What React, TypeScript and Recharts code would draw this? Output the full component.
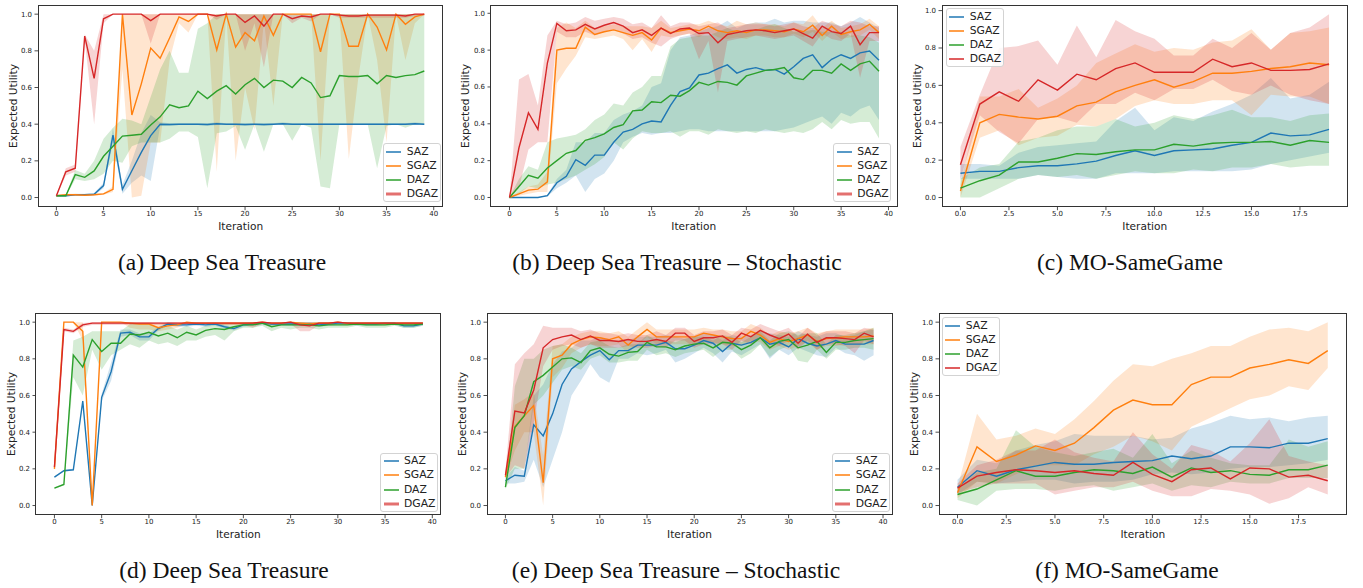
import React from 'react';
import { ComposedChart, Line, Area, XAxis, YAxis } from 'recharts';

// ---------- categories ----------
const SERIES = ['SAZ', 'SGAZ', 'DAZ', 'DGAZ'];
const COLORS = ['#1f77b4', '#ff7f0e', '#2ca02c', '#d62728'];
const ITER40 = [0,1,2,3,4,5,6,7,8,9,10,11,12,13,14,15,16,17,18,19,20,21,22,23,24,25,26,27,28,29,30,31,32,33,34,35,36,37,38,39];
const ITER20 = [0,1,2,3,4,5,6,7,8,9,10,11,12,13,14,15,16,17,18,19];
const XTICKS40 = [0, 5, 10, 15, 20, 25, 30, 35, 40];
const XTICKS20 = [0, 2.5, 5, 7.5, 10, 12.5, 15, 17.5];
const YTICKS = [0, 0.2, 0.4, 0.6, 0.8, 1.0];

// ---------- (a) Deep Sea Treasure ----------
const A_SAZ_mean = [0.01,0.01,0.015,0.015,0.018,0.065,0.34,0.045,0.146,0.246,0.338,0.40,0.398,0.40,0.40,0.40,0.398,0.402,0.40,0.40,0.398,0.40,0.398,0.40,0.402,0.40,0.40,0.40,0.40,0.40,0.40,0.40,0.40,0.40,0.40,0.40,0.40,0.40,0.402,0.40];
const A_SAZ_lo = [0.005,0.005,0.01,0.01,0.012,0.05,0.30,0.02,0.08,0.12,0.09,0.39,0.39,0.395,0.395,0.395,0.39,0.395,0.395,0.395,0.39,0.395,0.39,0.395,0.395,0.395,0.395,0.395,0.395,0.395,0.395,0.395,0.395,0.395,0.395,0.395,0.395,0.395,0.395,0.395];
const A_SAZ_hi = [0.015,0.015,0.02,0.02,0.024,0.08,0.38,0.07,0.2,0.35,0.45,0.41,0.405,0.405,0.405,0.405,0.405,0.41,0.405,0.405,0.405,0.405,0.405,0.405,0.41,0.405,0.405,0.405,0.405,0.405,0.405,0.405,0.405,0.405,0.405,0.405,0.405,0.405,0.41,0.405];
const A_SGAZ_mean = [0.01,0.015,0.015,0.012,0.015,0.02,0.045,1.0,0.45,0.62,0.815,0.76,0.87,0.985,0.96,1.0,1.0,0.805,1.0,0.82,0.90,0.855,0.99,0.885,1.0,1.0,1.0,1.0,0.795,1.0,1.0,0.825,0.825,1.0,0.93,0.805,1.0,0.945,0.985,1.0];
const A_SGAZ_lo = [0.005,0.01,0.01,0.008,0.01,0.015,0.03,0.7,0.0,0.01,0.3,0.3,0.75,0.95,0.9,1.0,1.0,0.14,1.0,0.2,0.6,0.37,0.97,0.5,1.0,1.0,1.0,1.0,0.2,1.0,1.0,0.21,0.65,1.0,0.75,0.3,1.0,0.75,0.95,1.0];
const A_SGAZ_hi = [0.015,0.02,0.02,0.016,0.02,0.025,0.06,1.0,1.0,1.0,1.0,1.0,1.0,1.0,1.0,1.0,1.0,1.0,1.0,1.0,1.0,1.0,1.0,1.0,1.0,1.0,1.0,1.0,1.0,1.0,1.0,1.0,1.0,1.0,1.0,1.0,1.0,1.0,1.0,1.0];
const A_DAZ_mean = [0.01,0.01,0.125,0.11,0.145,0.225,0.28,0.335,0.34,0.345,0.395,0.44,0.505,0.49,0.5,0.58,0.54,0.58,0.61,0.565,0.615,0.65,0.6,0.64,0.635,0.6,0.655,0.625,0.545,0.555,0.665,0.66,0.66,0.665,0.62,0.665,0.655,0.665,0.67,0.69];
const A_DAZ_lo = [0.005,0.005,0.1,0.09,0.1,0.13,0.2,0.19,0.28,0.3,0.3,0.3,0.32,0.36,0.36,0.33,0.05,0.35,0.36,0.39,0.26,0.4,0.25,0.4,0.4,0.31,0.4,0.38,0.06,0.05,0.4,0.4,0.4,0.4,0.16,0.39,0.4,0.38,0.4,0.4];
const A_DAZ_hi = [0.015,0.015,0.15,0.13,0.2,0.32,0.38,0.43,0.42,0.4,0.55,0.7,0.8,0.68,0.68,0.92,0.95,1.0,1.0,1.0,1.0,1.0,1.0,1.0,1.0,1.0,1.0,1.0,1.0,1.0,1.0,1.0,1.0,1.0,1.0,1.0,1.0,1.0,1.0,1.0];
const A_DGAZ_mean = [0.01,0.14,0.16,0.88,0.65,0.975,1.0,1.0,1.0,1.0,0.965,1.0,1.0,1.0,1.0,1.0,1.0,0.99,1.0,1.0,0.955,0.99,0.935,1.0,1.0,0.975,0.99,0.985,1.0,1.0,0.995,0.99,0.99,0.995,0.995,0.995,0.995,0.99,1.0,1.0];
const A_DGAZ_lo = [0.005,0.12,0.14,0.86,0.4,0.95,1.0,1.0,1.0,1.0,0.84,1.0,1.0,1.0,1.0,1.0,1.0,0.97,1.0,1.0,0.8,0.95,0.71,1.0,1.0,0.95,0.98,0.96,1.0,1.0,0.98,0.98,0.98,0.98,0.98,0.98,0.98,0.98,0.99,0.99];
const A_DGAZ_hi = [0.015,0.16,0.18,0.89,0.8,1.0,1.0,1.0,1.0,1.0,1.0,1.0,1.0,1.0,1.0,1.0,1.0,1.0,1.0,1.0,1.0,1.0,1.0,1.0,1.0,1.0,1.0,1.0,1.0,1.0,1.0,1.0,1.0,1.0,1.0,1.0,1.0,1.0,1.0,1.0];

// ---------- (b) Deep Sea Treasure – Stochastic ----------
const B_SAZ_mean = [0,0,0,0,0.01,0.08,0.115,0.205,0.175,0.23,0.23,0.3,0.355,0.37,0.4,0.415,0.41,0.5,0.575,0.595,0.665,0.675,0.7,0.72,0.675,0.695,0.705,0.69,0.695,0.67,0.71,0.755,0.775,0.705,0.75,0.775,0.755,0.785,0.795,0.745];
const B_SAZ_lo = [0,0,0,0,0.005,0.05,0.08,0.12,0.03,0.1,0.13,0.2,0.3,0.33,0.35,0.34,0.35,0.35,0.36,0.37,0.37,0.36,0.36,0.36,0.36,0.36,0.36,0.36,0.36,0.37,0.38,0.4,0.42,0.44,0.4,0.46,0.44,0.48,0.5,0.42];
const B_SAZ_hi = [0,0,0,0,0.015,0.1,0.15,0.3,0.3,0.35,0.35,0.42,0.45,0.47,0.5,0.6,0.62,0.8,0.87,0.88,0.9,0.92,0.93,0.96,0.92,0.94,0.95,0.95,0.97,0.95,0.96,0.96,0.95,0.95,0.95,0.93,0.95,0.98,0.95,0.92];
const B_SGAZ_mean = [0,0.02,0.04,0.045,0.085,0.8,0.81,0.81,0.925,0.885,0.9,0.91,0.895,0.88,0.895,0.855,0.92,0.895,0.905,0.915,0.905,0.93,0.905,0.895,0.905,0.895,0.91,0.91,0.905,0.9,0.915,0.9,0.935,0.88,0.93,0.885,0.9,0.91,0.94,0.895];
const B_SGAZ_lo = [0,0.01,0.02,0.03,0.03,0.62,0.7,0.77,0.87,0.86,0.87,0.88,0.86,0.8,0.86,0.79,0.88,0.87,0.88,0.89,0.87,0.9,0.87,0.86,0.87,0.86,0.88,0.88,0.87,0.87,0.89,0.87,0.9,0.85,0.9,0.86,0.87,0.88,0.91,0.86];
const B_SGAZ_hi = [0,0.03,0.06,0.07,0.14,0.92,0.95,0.92,0.96,0.92,0.93,0.94,0.93,0.93,0.93,0.92,0.96,0.92,0.93,0.94,0.94,0.96,0.94,0.93,0.96,0.94,0.95,0.94,0.94,0.93,0.95,0.94,0.99,0.92,0.96,0.92,0.93,0.94,0.97,0.93];
const B_DAZ_mean = [0,0.06,0.12,0.105,0.16,0.2,0.24,0.255,0.31,0.325,0.345,0.38,0.395,0.47,0.475,0.52,0.515,0.555,0.55,0.58,0.625,0.61,0.63,0.625,0.61,0.66,0.675,0.69,0.695,0.705,0.65,0.64,0.69,0.69,0.675,0.725,0.69,0.725,0.74,0.685];
const B_DAZ_lo = [0,0.02,0.06,0.05,0.07,0.08,0.1,0.12,0.15,0.18,0.22,0.3,0.26,0.32,0.36,0.35,0.35,0.36,0.33,0.36,0.36,0.34,0.37,0.36,0.35,0.36,0.35,0.37,0.36,0.35,0.36,0.35,0.37,0.41,0.37,0.42,0.4,0.41,0.41,0.32];
const B_DAZ_hi = [0,0.1,0.17,0.15,0.3,0.32,0.33,0.34,0.37,0.42,0.45,0.51,0.5,0.57,0.6,0.66,0.66,0.82,0.86,0.87,0.88,0.88,0.9,0.92,0.9,0.9,0.91,0.93,0.94,0.92,0.9,0.9,0.91,0.9,0.9,0.9,0.88,0.88,0.87,0.84];
const B_DGAZ_mean = [0,0.27,0.46,0.37,0.73,0.945,0.905,0.91,0.94,0.915,0.935,0.95,0.93,0.895,0.91,0.88,0.92,0.89,0.915,0.92,0.89,0.895,0.84,0.885,0.895,0.905,0.91,0.905,0.895,0.905,0.915,0.89,0.865,0.93,0.9,0.89,0.93,0.83,0.895,0.895];
const B_DGAZ_lo = [0,0.05,0.26,0.3,0.3,0.9,0.87,0.87,0.9,0.88,0.9,0.91,0.89,0.86,0.87,0.84,0.82,0.86,0.88,0.89,0.75,0.85,0.57,0.85,0.86,0.87,0.88,0.87,0.86,0.87,0.88,0.85,0.82,0.89,0.86,0.85,0.89,0.65,0.85,0.85];
const B_DGAZ_hi = [0,0.64,0.67,0.5,0.88,0.96,0.94,0.95,0.98,0.96,0.97,0.98,0.97,0.94,0.95,0.92,0.99,0.93,0.95,0.95,0.93,0.94,0.95,0.92,0.93,0.94,0.94,0.94,0.93,0.94,0.95,0.93,0.92,0.96,0.94,0.93,0.96,0.95,0.93,0.93];

// ---------- (c) MO-SameGame ----------
const C_SAZ_mean = [0.13,0.14,0.14,0.16,0.17,0.17,0.18,0.195,0.225,0.25,0.225,0.25,0.255,0.26,0.28,0.295,0.345,0.33,0.335,0.365];
const C_SAZ_lo = [0.1,0.1,0.1,0.1,0.12,0.11,0.1,0.1,0.13,0.13,0.13,0.14,0.14,0.14,0.14,0.15,0.18,0.2,0.22,0.24];
const C_SAZ_hi = [0.18,0.18,0.17,0.24,0.27,0.28,0.29,0.3,0.41,0.48,0.36,0.43,0.41,0.46,0.5,0.55,0.64,0.53,0.55,0.62];
const C_SGAZ_mean = [0.035,0.4,0.445,0.43,0.42,0.435,0.49,0.51,0.565,0.6,0.63,0.59,0.62,0.665,0.665,0.675,0.69,0.7,0.72,0.71];
const C_SGAZ_lo = [0.0,0.32,0.36,0.28,0.32,0.33,0.39,0.38,0.42,0.49,0.52,0.5,0.5,0.52,0.52,0.44,0.55,0.54,0.54,0.5];
const C_SGAZ_hi = [0.07,0.54,0.54,0.58,0.48,0.53,0.6,0.72,0.77,0.82,0.78,0.8,0.79,0.83,0.84,0.9,0.79,0.88,0.89,0.91];
const C_DAZ_mean = [0.05,0.09,0.12,0.19,0.19,0.21,0.235,0.23,0.245,0.255,0.255,0.285,0.275,0.29,0.295,0.295,0.3,0.28,0.305,0.295];
const C_DAZ_lo = [0.0,0.0,0.05,0.1,0.12,0.11,0.12,0.1,0.12,0.14,0.13,0.13,0.15,0.14,0.16,0.16,0.18,0.16,0.17,0.17];
const C_DAZ_hi = [0.1,0.16,0.18,0.3,0.32,0.36,0.38,0.38,0.42,0.38,0.4,0.44,0.42,0.44,0.47,0.43,0.43,0.41,0.44,0.45];
const C_DGAZ_mean = [0.175,0.5,0.565,0.515,0.63,0.575,0.66,0.63,0.69,0.72,0.67,0.67,0.67,0.74,0.70,0.72,0.68,0.68,0.685,0.715];
const C_DGAZ_lo = [0.1,0.44,0.35,0.29,0.42,0.43,0.4,0.5,0.5,0.56,0.52,0.58,0.58,0.63,0.57,0.55,0.6,0.55,0.52,0.5];
const C_DGAZ_hi = [0.27,0.55,0.8,0.81,0.84,0.71,0.92,0.75,0.95,0.89,0.85,0.76,0.76,0.85,0.8,0.88,0.79,0.88,0.91,0.98];

// ---------- (d) Deep Sea Treasure ----------
const D_SAZ_mean = [0.155,0.19,0.195,0.57,0.0,0.59,0.73,0.94,0.945,0.92,0.92,0.965,0.99,0.985,0.985,0.99,0.985,0.99,0.975,0.965,0.985,0.99,0.995,0.99,0.99,0.99,0.99,0.99,0.985,0.99,0.995,0.995,0.99,0.99,0.99,0.995,0.995,0.98,0.98,0.99];
const D_SAZ_lo = [0.15,0.185,0.19,0.56,0.0,0.57,0.68,0.92,0.93,0.9,0.9,0.955,0.98,0.975,0.975,0.98,0.975,0.98,0.965,0.955,0.975,0.98,0.985,0.98,0.98,0.98,0.98,0.98,0.975,0.98,0.985,0.985,0.98,0.98,0.98,0.985,0.985,0.97,0.97,0.98];
const D_SAZ_hi = [0.16,0.195,0.2,0.58,0.0,0.61,0.78,0.96,0.96,0.94,0.94,0.975,1.0,0.995,0.995,1.0,0.995,1.0,0.985,0.975,0.995,1.0,1.0,1.0,1.0,1.0,1.0,1.0,0.995,1.0,1.0,1.0,1.0,1.0,1.0,1.0,1.0,0.99,0.99,1.0];
const D_SGAZ_mean = [0.2,1.0,1.0,0.95,0.0,1.0,1.0,1.0,0.995,0.99,0.99,0.97,0.98,0.985,1.0,0.995,0.995,0.995,0.995,0.995,0.995,0.995,1.0,0.995,0.995,1.0,0.995,0.99,0.995,0.995,1.0,0.995,0.995,0.995,0.995,0.995,0.995,0.995,0.995,0.995];
const D_SGAZ_lo = [0.19,1.0,1.0,0.9,0.0,1.0,1.0,1.0,0.97,0.96,0.96,0.95,0.96,0.97,0.99,0.985,0.985,0.985,0.985,0.985,0.985,0.985,0.99,0.985,0.985,0.99,0.985,0.98,0.985,0.985,0.99,0.985,0.985,0.985,0.985,0.985,0.985,0.985,0.985,0.985];
const D_SGAZ_hi = [0.21,1.0,1.0,1.0,0.0,1.0,1.0,1.0,1.0,1.0,1.0,0.99,1.0,1.0,1.0,1.0,1.0,1.0,1.0,1.0,1.0,1.0,1.0,1.0,1.0,1.0,1.0,1.0,1.0,1.0,1.0,1.0,1.0,1.0,1.0,1.0,1.0,1.0,1.0,1.0];
const D_DAZ_mean = [0.095,0.115,0.82,0.755,0.905,0.84,0.885,0.885,0.935,0.93,0.945,0.925,0.94,0.915,0.945,0.93,0.955,0.965,0.96,0.975,0.985,0.985,0.995,0.975,0.985,0.985,0.985,0.985,0.98,0.985,0.985,0.985,0.99,0.985,0.985,0.985,0.99,0.985,0.985,0.99];
const D_DAZ_lo = [0.09,0.11,0.7,0.6,0.85,0.74,0.82,0.85,0.88,0.86,0.9,0.88,0.89,0.87,0.9,0.9,0.92,0.93,0.9,0.95,0.97,0.97,0.98,0.95,0.97,0.96,0.97,0.97,0.96,0.97,0.97,0.97,0.98,0.97,0.97,0.97,0.98,0.97,0.97,0.98];
const D_DAZ_hi = [0.1,0.12,0.9,0.92,0.95,0.95,0.95,0.95,0.99,0.99,0.99,0.97,0.98,0.96,0.98,0.96,0.98,0.99,0.99,0.99,1.0,1.0,1.0,0.99,1.0,1.0,1.0,1.0,1.0,1.0,1.0,1.0,1.0,1.0,1.0,1.0,1.0,1.0,1.0,1.0];
const D_DGAZ_mean = [0.21,0.96,0.95,0.985,0.995,0.995,0.995,0.995,0.995,0.995,0.995,0.995,0.995,0.995,0.995,0.995,0.995,0.995,0.995,0.995,0.995,0.995,1.0,0.995,0.995,1.0,0.985,0.98,0.995,0.995,1.0,0.995,0.995,0.995,0.995,0.995,0.995,0.995,0.995,0.995];
const D_DGAZ_lo = [0.2,0.95,0.94,0.975,0.985,0.985,0.985,0.985,0.985,0.985,0.985,0.985,0.985,0.985,0.985,0.985,0.985,0.985,0.985,0.985,0.985,0.97,0.99,0.985,0.985,0.99,0.95,0.95,0.985,0.985,0.99,0.985,0.985,0.985,0.985,0.985,0.985,0.985,0.985,0.985];
const D_DGAZ_hi = [0.22,0.97,0.96,0.995,1.0,1.0,1.0,1.0,1.0,1.0,1.0,1.0,1.0,1.0,1.0,1.0,1.0,1.0,1.0,1.0,1.0,1.0,1.0,1.0,1.0,1.0,1.0,1.0,1.0,1.0,1.0,1.0,1.0,1.0,1.0,1.0,1.0,1.0,1.0,1.0];

// ---------- (e) Deep Sea Treasure – Stochastic ----------
const E_SAZ_mean = [0.135,0.165,0.16,0.44,0.38,0.5,0.66,0.745,0.785,0.82,0.845,0.795,0.845,0.845,0.875,0.875,0.875,0.89,0.855,0.855,0.875,0.9,0.885,0.84,0.885,0.875,0.89,0.915,0.88,0.89,0.865,0.91,0.885,0.87,0.88,0.9,0.88,0.88,0.88,0.9];
const E_SAZ_lo = [0.12,0.12,0.13,0.25,0.1,0.25,0.4,0.6,0.68,0.77,0.7,0.67,0.8,0.8,0.83,0.82,0.83,0.85,0.78,0.8,0.83,0.86,0.83,0.78,0.84,0.82,0.85,0.88,0.8,0.85,0.82,0.86,0.84,0.82,0.81,0.86,0.83,0.82,0.79,0.82];
const E_SAZ_hi = [0.15,0.21,0.19,0.6,0.66,0.77,0.84,0.86,0.9,0.9,0.92,0.9,0.9,0.9,0.92,0.92,0.92,0.93,0.92,0.91,0.92,0.94,0.93,0.9,0.93,0.92,0.93,0.95,0.94,0.93,0.92,0.95,0.93,0.92,0.94,0.94,0.92,0.93,0.95,0.96];
const E_SGAZ_mean = [0.155,0.43,0.49,0.545,0.125,0.8,0.82,0.88,0.905,0.92,0.915,0.905,0.92,0.875,0.92,0.96,0.92,0.92,0.92,0.92,0.92,0.94,0.93,0.92,0.91,0.91,0.95,0.93,0.89,0.91,0.895,0.91,0.93,0.895,0.91,0.915,0.92,0.92,0.92,0.925];
const E_SGAZ_lo = [0.14,0.3,0.4,0.4,0.0,0.7,0.75,0.83,0.86,0.88,0.87,0.87,0.88,0.83,0.88,0.92,0.88,0.88,0.88,0.88,0.88,0.9,0.89,0.88,0.87,0.87,0.9,0.89,0.85,0.87,0.85,0.87,0.89,0.85,0.87,0.87,0.88,0.88,0.88,0.88];
const E_SGAZ_hi = [0.17,0.55,0.58,0.62,0.27,0.87,0.88,0.92,0.94,0.95,0.95,0.94,0.95,0.92,0.96,1.0,0.96,0.96,0.96,0.96,0.96,0.97,0.96,0.96,0.95,0.95,0.99,0.97,0.93,0.95,0.94,0.95,0.97,0.94,0.95,0.96,0.96,0.96,0.96,0.97];
const E_DAZ_mean = [0.1,0.425,0.49,0.675,0.71,0.755,0.8,0.805,0.78,0.845,0.86,0.825,0.815,0.835,0.84,0.89,0.865,0.865,0.85,0.87,0.88,0.885,0.86,0.89,0.885,0.85,0.875,0.915,0.86,0.895,0.905,0.86,0.875,0.895,0.835,0.89,0.89,0.9,0.905,0.91];
const E_DAZ_lo = [0.09,0.2,0.2,0.55,0.6,0.67,0.74,0.76,0.74,0.8,0.82,0.78,0.78,0.79,0.79,0.85,0.82,0.83,0.81,0.83,0.84,0.85,0.81,0.85,0.85,0.8,0.83,0.88,0.81,0.85,0.87,0.79,0.78,0.85,0.8,0.85,0.85,0.86,0.86,0.85];
const E_DAZ_hi = [0.11,0.65,0.8,0.8,0.85,0.87,0.88,0.86,0.83,0.89,0.9,0.87,0.86,0.88,0.88,0.93,0.9,0.9,0.89,0.91,0.92,0.92,0.9,0.93,0.92,0.89,0.92,0.95,0.9,0.94,0.95,0.93,0.94,0.94,0.88,0.93,0.93,0.94,0.95,0.97];
const E_DGAZ_mean = [0.165,0.515,0.505,0.63,0.86,0.905,0.92,0.93,0.905,0.925,0.9,0.9,0.895,0.905,0.895,0.895,0.905,0.895,0.94,0.94,0.895,0.915,0.915,0.925,0.89,0.94,0.92,0.955,0.93,0.91,0.935,0.885,0.935,0.89,0.915,0.915,0.91,0.905,0.94,0.92];
const E_DGAZ_lo = [0.15,0.22,0.2,0.45,0.76,0.85,0.87,0.88,0.86,0.88,0.86,0.86,0.86,0.87,0.86,0.86,0.87,0.86,0.9,0.9,0.86,0.88,0.88,0.88,0.85,0.9,0.88,0.91,0.89,0.87,0.9,0.85,0.9,0.85,0.88,0.88,0.87,0.83,0.9,0.88];
const E_DGAZ_hi = [0.19,0.77,0.83,0.88,0.98,0.97,0.97,0.97,0.95,0.96,0.94,0.94,0.93,0.94,0.93,0.93,0.95,0.93,0.97,0.97,0.93,0.95,0.95,0.96,0.93,0.97,0.96,0.99,0.97,0.95,0.97,0.92,0.97,0.93,0.95,0.95,0.95,0.94,0.97,0.96];

// ---------- (f) MO-SameGame ----------
const F_SAZ_mean = [0.1,0.19,0.16,0.195,0.215,0.235,0.225,0.225,0.235,0.24,0.245,0.27,0.255,0.27,0.32,0.32,0.315,0.34,0.34,0.365];
const F_SAZ_lo = [0.06,0.13,0.12,0.13,0.14,0.14,0.12,0.13,0.13,0.14,0.17,0.18,0.17,0.18,0.2,0.21,0.21,0.22,0.23,0.25];
const F_SAZ_hi = [0.14,0.25,0.23,0.3,0.33,0.35,0.39,0.38,0.38,0.38,0.36,0.37,0.42,0.45,0.49,0.47,0.48,0.46,0.48,0.49];
const F_SGAZ_mean = [0.07,0.32,0.24,0.275,0.325,0.3,0.34,0.425,0.52,0.575,0.55,0.55,0.66,0.7,0.7,0.75,0.77,0.795,0.775,0.845];
const F_SGAZ_lo = [0.04,0.13,0.12,0.17,0.22,0.22,0.22,0.28,0.32,0.38,0.35,0.3,0.43,0.48,0.53,0.58,0.6,0.65,0.63,0.75];
const F_SGAZ_hi = [0.1,0.5,0.36,0.38,0.42,0.39,0.47,0.57,0.68,0.77,0.76,0.8,0.83,0.87,0.87,0.92,0.96,0.97,0.95,1.0];
const F_DAZ_mean = [0.06,0.09,0.14,0.19,0.16,0.16,0.18,0.195,0.19,0.175,0.21,0.155,0.205,0.18,0.19,0.17,0.165,0.195,0.195,0.22];
const F_DAZ_lo = [0.03,0.0,0.08,0.09,0.09,0.08,0.1,0.11,0.08,0.1,0.12,0.08,0.11,0.1,0.13,0.12,0.12,0.15,0.15,0.15];
const F_DAZ_hi = [0.09,0.18,0.2,0.41,0.32,0.29,0.27,0.29,0.31,0.26,0.39,0.23,0.3,0.26,0.23,0.22,0.22,0.36,0.32,0.35];
const F_DGAZ_mean = [0.095,0.16,0.18,0.195,0.19,0.18,0.19,0.175,0.165,0.235,0.17,0.13,0.195,0.205,0.145,0.205,0.2,0.155,0.165,0.135];
const F_DGAZ_lo = [0.07,0.1,0.12,0.12,0.12,0.06,0.08,0.1,0.1,0.13,0.08,0.05,0.05,0.09,0.08,0.06,0.01,0.04,0.1,0.06];
const F_DGAZ_hi = [0.12,0.22,0.25,0.3,0.3,0.36,0.29,0.26,0.24,0.4,0.28,0.2,0.33,0.3,0.24,0.34,0.47,0.27,0.24,0.22];

// ---------- assembly ----------
function buildRows(xs: number[], means: number[][], los: number[][], his: number[][]) {
  return xs.map((x, i) => {
    const r: any = { x };
    SERIES.forEach((s, k) => {
      r[s] = means[k][i];
      r[s + '_band'] = [los[k][i], his[k][i]];
    });
    return r;
  });
}

const fmtInt = (v: number) => String(v);
const fmt1 = (v: number) => v.toFixed(1);

const PANELS = [
  {
    caption: '(a) Deep Sea Treasure', capX: 222, capTop: 250.6,
    L: 38.3, T: 5, R: 443, B: 206.7, xDomain: [-1.95, 40.95], yDomain: [-0.05, 1.05],
    xTicks: XTICKS40, xFmt: fmtInt, ylabX: 12.5, iterY: 226, legend: [382.7, 143.3], thickLast: true,
    rows: buildRows(ITER40, [A_SAZ_mean, A_SGAZ_mean, A_DAZ_mean, A_DGAZ_mean], [A_SAZ_lo, A_SGAZ_lo, A_DAZ_lo, A_DGAZ_lo], [A_SAZ_hi, A_SGAZ_hi, A_DAZ_hi, A_DGAZ_hi]),
  },
  {
    caption: '(b) Deep Sea Treasure – Stochastic', capX: 677, capTop: 250.6,
    L: 490.5, T: 5, R: 897, B: 206.7, xDomain: [-1.95, 40.95], yDomain: [-0.05, 1.045],
    xTicks: XTICKS40, xFmt: fmtInt, ylabX: 465.3, iterY: 226, legend: [833.3, 143.3], thickLast: true,
    rows: buildRows(ITER40, [B_SAZ_mean, B_SGAZ_mean, B_DAZ_mean, B_DGAZ_mean], [B_SAZ_lo, B_SGAZ_lo, B_DAZ_lo, B_DGAZ_lo], [B_SAZ_hi, B_SGAZ_hi, B_DAZ_hi, B_DGAZ_hi]),
  },
  {
    caption: '(c) MO-SameGame', capX: 1130, capTop: 250.6,
    L: 942, T: 5, R: 1347.5, B: 206.7, xDomain: [-0.95, 19.95], yDomain: [-0.049, 1.03],
    xTicks: XTICKS20, xFmt: fmt1, ylabX: 917, iterY: 226, legend: [945.7, 8.3], thickLast: false,
    rows: buildRows(ITER20, [C_SAZ_mean, C_SGAZ_mean, C_DAZ_mean, C_DGAZ_mean], [C_SAZ_lo, C_SGAZ_lo, C_DAZ_lo, C_DGAZ_lo], [C_SAZ_hi, C_SGAZ_hi, C_DAZ_hi, C_DGAZ_hi]),
  },
  {
    caption: '(d) Deep Sea Treasure', capX: 224, capTop: 559.4,
    L: 35.7, T: 313.3, R: 441, B: 515, xDomain: [-1.95, 40.95], yDomain: [-0.05, 1.05],
    xTicks: XTICKS40, xFmt: fmtInt, ylabX: 11.3, iterY: 534.3, legend: [380, 452.7], thickLast: true,
    rows: buildRows(ITER40, [D_SAZ_mean, D_SGAZ_mean, D_DAZ_mean, D_DGAZ_mean], [D_SAZ_lo, D_SGAZ_lo, D_DAZ_lo, D_DGAZ_lo], [D_SAZ_hi, D_SGAZ_hi, D_DAZ_hi, D_DGAZ_hi]),
  },
  {
    caption: '(e) Deep Sea Treasure – Stochastic', capX: 676, capTop: 559.4,
    L: 487, T: 313.3, R: 892, B: 515, xDomain: [-1.95, 40.95], yDomain: [-0.05, 1.05],
    xTicks: XTICKS40, xFmt: fmtInt, ylabX: 462, iterY: 534.3, legend: [831.7, 452.7], thickLast: true,
    rows: buildRows(ITER40, [E_SAZ_mean, E_SGAZ_mean, E_DAZ_mean, E_DGAZ_mean], [E_SAZ_lo, E_SGAZ_lo, E_DAZ_lo, E_DGAZ_lo], [E_SAZ_hi, E_SGAZ_hi, E_DAZ_hi, E_DGAZ_hi]),
  },
  {
    caption: '(f) MO-SameGame', capX: 1127, capTop: 559.4,
    L: 939.2, T: 313.3, R: 1346.5, B: 515, xDomain: [-0.95, 19.95], yDomain: [-0.05, 1.05],
    xTicks: XTICKS20, xFmt: fmt1, ylabX: 913.8, iterY: 534.3, legend: [941.7, 317.3], thickLast: false,
    rows: buildRows(ITER20, [F_SAZ_mean, F_SGAZ_mean, F_DAZ_mean, F_DGAZ_mean], [F_SAZ_lo, F_SGAZ_lo, F_DAZ_lo, F_DGAZ_lo], [F_SAZ_hi, F_SGAZ_hi, F_DAZ_hi, F_DGAZ_hi]),
  },
];

const SANS = '"DejaVu Sans", sans-serif';
const TXT = '#222';

function Legend({ x, y, thickLast }: { x: number; y: number; thickLast: boolean }) {
  return (
    <div style={{ position: 'absolute', left: x, top: y, width: 58, height: 59, boxSizing: 'border-box', border: '1px solid #d3d3d3', borderRadius: 3, background: 'rgba(255,255,255,0.85)' }}>
      {SERIES.map((s, k) => {
        const thick = thickLast && k === 3;
        const cy = 7.5 + 14.2 * k;
        return (
          <div key={s} style={{ position: 'absolute', left: 0, top: cy - 7, height: 14, width: 56 }}>
            <svg width={20} height={14} style={{ position: 'absolute', left: 1.5, top: 0 }}>
              <line x1={1} y1={7} x2={16} y2={7} stroke={thick ? '#e3706f' : COLORS[k]} strokeWidth={thick ? 3 : 1.5} />
            </svg>
            <span style={{ position: 'absolute', left: 23, top: 0, lineHeight: '14px', fontSize: 10.8, fontFamily: SANS, color: TXT, whiteSpace: 'nowrap' }}>{s}</span>
          </div>
        );
      })}
    </div>
  );
}

function Panel({ p }: { p: any }) {
  const YW = 40;
  const XH = 30;
  const w = p.R - p.L;
  const h = p.B - p.T;
  const tickStyle = { fontSize: 7, fill: TXT, fontFamily: SANS };
  return (
    <>
      <div style={{ position: 'absolute', left: p.L - YW, top: p.T }}>
        <ComposedChart width={w + YW} height={h + XH} data={p.rows} margin={{ top: 0, right: 0, bottom: 0, left: 0 }}>
          <XAxis dataKey="x" type="number" domain={p.xDomain} ticks={p.xTicks} tickFormatter={p.xFmt} allowDataOverflow interval={0}
            axisLine={false} tickSize={3.5} tickMargin={0.5} tick={tickStyle} tickLine={{ stroke: '#222', strokeWidth: 0.8 }} height={XH} />
          <YAxis type="number" domain={p.yDomain} ticks={YTICKS} tickFormatter={fmt1} allowDataOverflow interval={0}
            axisLine={false} tickSize={3.5} tickMargin={2.5} tick={tickStyle} tickLine={{ stroke: '#222', strokeWidth: 0.8 }} width={YW} />
          {SERIES.map((s, k) => (
            <Area key={s + '_band'} dataKey={s + '_band'} type="linear" stroke="none" fill={COLORS[k]} fillOpacity={0.2}
              isAnimationActive={false} dot={false} activeDot={false} />
          ))}
          {SERIES.map((s, k) => (
            <Line key={s} dataKey={s} type="linear" stroke={COLORS[k]} strokeWidth={1.4} dot={false} activeDot={false}
              isAnimationActive={false} />
          ))}
        </ComposedChart>
      </div>
      <div style={{ position: 'absolute', left: p.L - 0.5, top: p.T - 0.5, width: w + 1, height: h + 1, boxSizing: 'border-box', border: '1px solid #333', pointerEvents: 'none' }} />
      <Legend x={p.legend[0]} y={p.legend[1]} thickLast={p.thickLast} />
      <div style={{ position: 'absolute', left: p.ylabX, top: (p.T + p.B) / 2, transform: 'translate(-50%, -50%) rotate(-90deg)', fontSize: 10.6, fontFamily: SANS, color: TXT, whiteSpace: 'nowrap', lineHeight: '12px' }}>
        Expected Utility
      </div>
      <div style={{ position: 'absolute', left: (p.L + p.R) / 2, top: p.iterY, transform: 'translate(-50%, -50%)', fontSize: 10.6, fontFamily: SANS, color: TXT, whiteSpace: 'nowrap', lineHeight: '12px' }}>
        Iteration
      </div>
      <div style={{ position: 'absolute', left: p.capX, top: p.capTop, transform: 'translateX(-50%)', fontSize: 23.5, lineHeight: '22px', fontFamily: '"Liberation Serif", "Times New Roman", serif', color: '#111', whiteSpace: 'nowrap' }}>
        {p.caption}
      </div>
    </>
  );
}

export default function App() {
  return (
    <div style={{ position: 'absolute', left: 0, top: 0, width: 1363, height: 588, background: '#fff', overflow: 'hidden' }}>
      {PANELS.map((p, i) => (
        <Panel key={i} p={p} />
      ))}
    </div>
  );
}
